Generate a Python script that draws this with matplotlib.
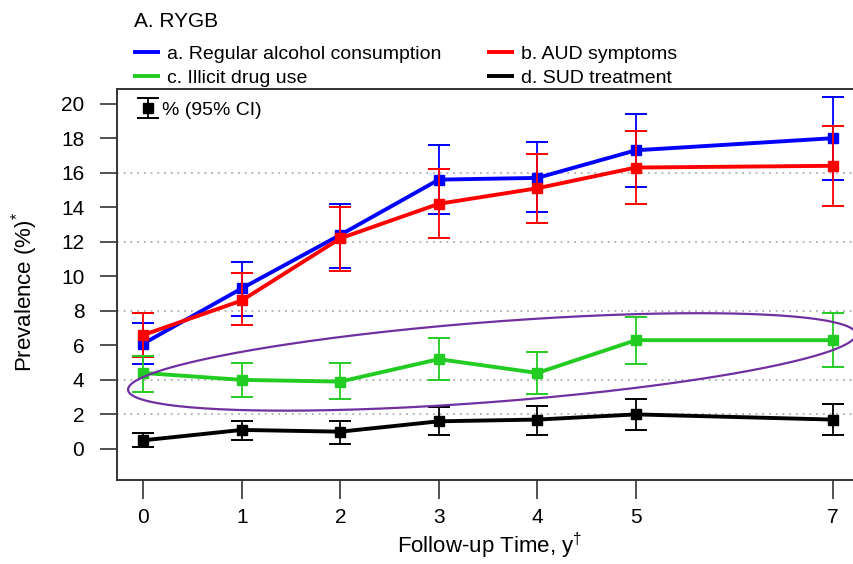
import numpy as np
import matplotlib
matplotlib.use("Agg")
import matplotlib.pyplot as plt
from matplotlib.lines import Line2D
from matplotlib.legend_handler import HandlerBase

plt.rcParams['font.family'] = ['Liberation Sans', 'DejaVu Sans']
plt.rcParams['mathtext.fontset'] = 'custom'
plt.rcParams['mathtext.rm'] = 'Liberation Sans'
plt.rcParams['mathtext.it'] = 'Liberation Sans'

# ---------------- data ----------------
years = [0, 1, 2, 3, 4, 5, 7]
xtick_labels = ['0', '1', '2', '3', '4', '5', '7']
yticks = [0, 2, 4, 6, 8, 10, 12, 14, 16, 18, 20]
grid_levels = [2, 4, 8, 12, 16]

alcohol = [6.1, 9.3, 12.4, 15.6, 15.7, 17.3, 18.0]
alcohol_lo = [4.9, 7.7, 10.5, 13.6, 13.7, 15.2, 15.6]
alcohol_hi = [7.3, 10.8, 14.2, 17.6, 17.8, 19.4, 20.4]

aud = [6.6, 8.6, 12.2, 14.2, 15.1, 16.3, 16.4]
aud_lo = [5.35, 7.2, 10.3, 12.2, 13.1, 14.2, 14.1]
aud_hi = [7.9, 10.2, 14.0, 16.2, 17.1, 18.4, 18.7]

drug = [4.4, 4.0, 3.9, 5.2, 4.4, 6.3, 6.3]
drug_lo = [3.3, 3.0, 2.9, 4.0, 3.2, 4.9, 4.75]
drug_hi = [5.4, 5.0, 5.0, 6.4, 5.6, 7.65, 7.9]

sud = [0.5, 1.1, 1.0, 1.6, 1.7, 2.0, 1.7]
sud_lo = [0.1, 0.5, 0.3, 0.8, 0.8, 1.1, 0.8]
sud_hi = [0.9, 1.6, 1.6, 2.4, 2.5, 2.9, 2.6]

series = [
    ('a. Regular alcohol consumption', alcohol, alcohol_lo, alcohol_hi, '#0000ff'),
    ('b. AUD symptoms', aud, aud_lo, aud_hi, '#ff0000'),
    ('c. Illicit drug use', drug, drug_lo, drug_hi, '#22cc22'),
    ('d. SUD treatment', sud, sud_lo, sud_hi, '#000000'),
]

# ellipse annotation (center in data units, axes in pixels)
ell_center = (3.54, 5.04)
ell_a_px, ell_b_px, ell_angle = 365, 40, 4.4

# ---------------- figure ----------------
W, H = 854, 564
fig = plt.figure(figsize=(W / 100, H / 100), dpi=100)
left_px, right_px, top_px, bottom_px = 117, 854, 89, 480
ax = fig.add_axes([left_px / W, 1 - bottom_px / H,
                   (right_px - left_px) / W, (bottom_px - top_px) / H])

xlim = (-0.267, 7.215)
ylim = (-1.80, 20.85)
ax.set_xlim(*xlim)
ax.set_ylim(*ylim)

for g in grid_levels:
    ax.axhline(g, color='#a0a0a0', lw=1.1, ls=(0, (1.2, 3.2)), zorder=0)

order = [3, 2, 0, 1]
for i in order:
    name, v, lo, hi, col = series[i]
    v = np.array(v); lo = np.array(lo); hi = np.array(hi)
    ax.errorbar(years, v, yerr=[v - lo, hi - v], fmt='-s', color=col,
                lw=2.8, ms=7.5, elinewidth=1.3, capsize=8, capthick=1.4,
                zorder=3 + i)

# ellipse
ax_w_px = right_px - left_px
ax_h_px = bottom_px - top_px
ppx = ax_w_px / (xlim[1] - xlim[0])
ppy = ax_h_px / (ylim[1] - ylim[0])
t = np.linspace(0, 2 * np.pi, 400)
phi = np.deg2rad(ell_angle)
dxp = ell_a_px * np.cos(t) * np.cos(phi) - ell_b_px * np.sin(t) * np.sin(phi)
dyp = ell_a_px * np.cos(t) * np.sin(phi) + ell_b_px * np.sin(t) * np.cos(phi)
ax.plot(ell_center[0] + dxp / ppx, ell_center[1] + dyp / ppy,
        color='#7030a0', lw=1.6, zorder=10)

# axes styling
for s in ['left', 'bottom', 'top']:
    ax.spines[s].set_color('#333333')
    ax.spines[s].set_linewidth(1.4)
ax.spines['right'].set_visible(False)

ax.set_xticks(years)
ax.set_xticklabels(xtick_labels)
ax.set_yticks(yticks)
ax.tick_params(axis='y', direction='out', length=12.5, width=1.2,
               color='#333333', labelsize=15, pad=11)
ax.tick_params(axis='x', direction='out', length=13.5, width=1.2,
               color='#333333', labelsize=15, pad=7)


# CI key legend
class CIHandler(HandlerBase):
    def create_artists(self, legend, orig_handle, xdescent, ydescent,
                       width, height, fontsize, trans):
        cx = width / 2 - xdescent
        cy = height / 2 - ydescent
        half = 0.5 * fontsize
        bar = Line2D([cx, cx], [cy - half, cy + half], color='black',
                     lw=1.3, transform=trans)
        caps = Line2D([cx, cx], [cy - half, cy + half], ls='none',
                      marker='_', ms=16, mew=1.4, color='black',
                      transform=trans)
        sq = Line2D([cx], [cy], ls='none', marker='s', ms=6.5,
                    color='black', transform=trans)
        return [bar, caps, sq]


ci_key = Line2D([], [], color='black')
ax.legend([ci_key], ['% (95% CI)'], handler_map={ci_key: CIHandler()},
          loc='upper left', bbox_to_anchor=((136 - 117) / ax_w_px, 1 - 12 / ax_h_px),
          frameon=False, fontsize=14, handlelength=1.2, handletextpad=0.15,
          borderaxespad=0, borderpad=0)


# top legends (two columns placed separately)
def handle(col):
    return Line2D([], [], color=col, lw=2.8, solid_capstyle='butt')


for (i, j), xpx in [((0, 2), 133), ((1, 3), 487)]:
    fig.legend([handle(series[i][4]), handle(series[j][4])],
               [series[i][0], series[j][0]],
               loc='upper left', bbox_to_anchor=(xpx / W, 1 - 45 / H),
               frameon=False, fontsize=14, handlelength=1.4,
               handletextpad=0.36, labelspacing=0.34, borderpad=0,
               borderaxespad=0)

# texts
fig.text(134 / W, 1 - 27 / H, 'A. RYGB', fontsize=15, va='baseline', ha='left')
fig.text(25 / W, 1 - 292 / H, 'Prevalence (%)$^{*}$', fontsize=16,
         rotation=90, ha='center', va='center')
fig.text(490 / W, 1 - 546 / H, 'Follow-up Time, y$^{\\dagger}$', fontsize=16,
         ha='center', va='center')

fig.savefig('out.png', dpi=100)
